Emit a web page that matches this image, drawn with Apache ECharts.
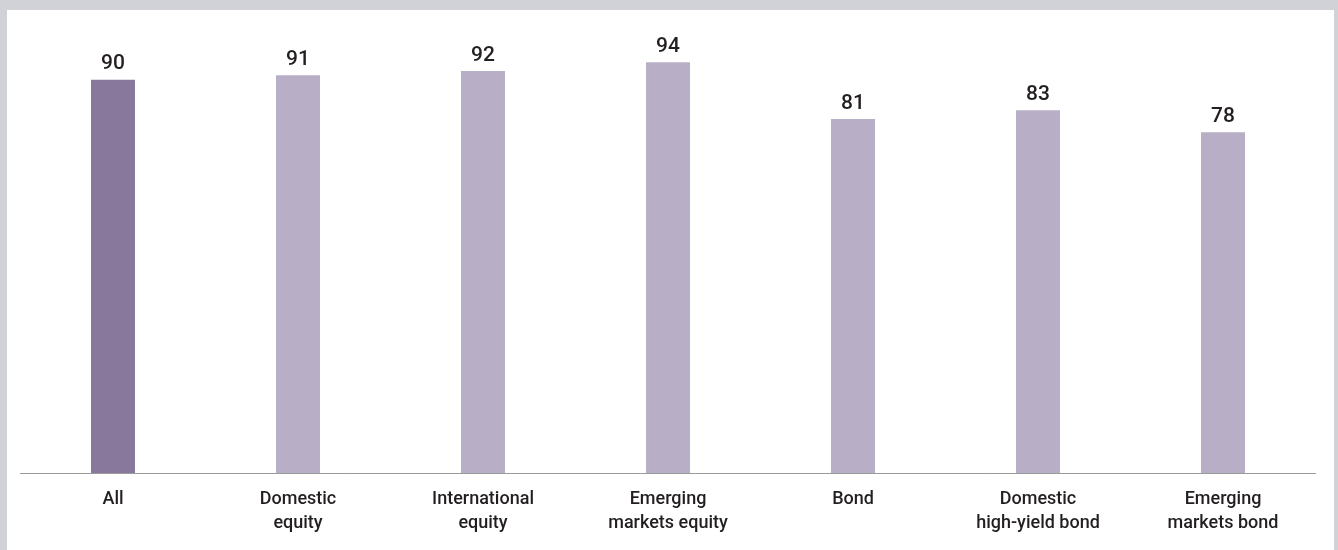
<!DOCTYPE html>
<html>
<head>
<meta charset="utf-8">
<script src="https://cdn.jsdelivr.net/npm/echarts@6/dist/echarts.min.js"></script>
<style>
html,body{margin:0;padding:0;background:#d1d2d7;width:1338px;height:550px;overflow:hidden;}
#frame{position:absolute;left:7px;top:10px;width:1327px;height:540px;background:#ffffff;}
#chart{width:1327px;height:540px;}
</style>
</head>
<body>
<div id="frame"><div id="chart"></div></div>
<script>
const categories = ['All', 'Domestic\nequity', 'International\nequity', 'Emerging\nmarkets equity', 'Bond', 'Domestic\nhigh-yield bond', 'Emerging\nmarkets bond'];
const values = [90, 91, 92, 94, 81, 83, 78];
const barColors = ['#87789c', '#b8aec6', '#b8aec6', '#b8aec6', '#b8aec6', '#b8aec6', '#b8aec6'];

const chart = echarts.init(document.getElementById('chart'));
chart.setOption({
  animation: false,
  grid: { left: 13.5, right: 18.5, top: 26, bottom: 77 },
  xAxis: {
    type: 'category',
    data: categories,
    axisLine: { lineStyle: { color: '#9a9a9a', width: 1 } },
    axisTick: { show: false },
    axisLabel: {
      color: '#231f20', fontSize: 18, fontFamily: 'Roboto', fontWeight: 500, lineHeight: 24,
      margin: 14, interval: 0
    }
  },
  yAxis: {
    type: 'value', min: 0, max: 100,
    show: false,
    splitLine: { show: false }
  },
  series: [{
    type: 'bar',
    barWidth: 44,
    data: values.map((v, i) => ({ value: v, itemStyle: { color: barColors[i] } })),
    label: {
      show: true, position: 'top', distance: 5,
      color: '#231f20', fontSize: 21, fontFamily: 'Roboto', fontWeight: 500
    }
  }]
});
</script>
</body>
</html>
